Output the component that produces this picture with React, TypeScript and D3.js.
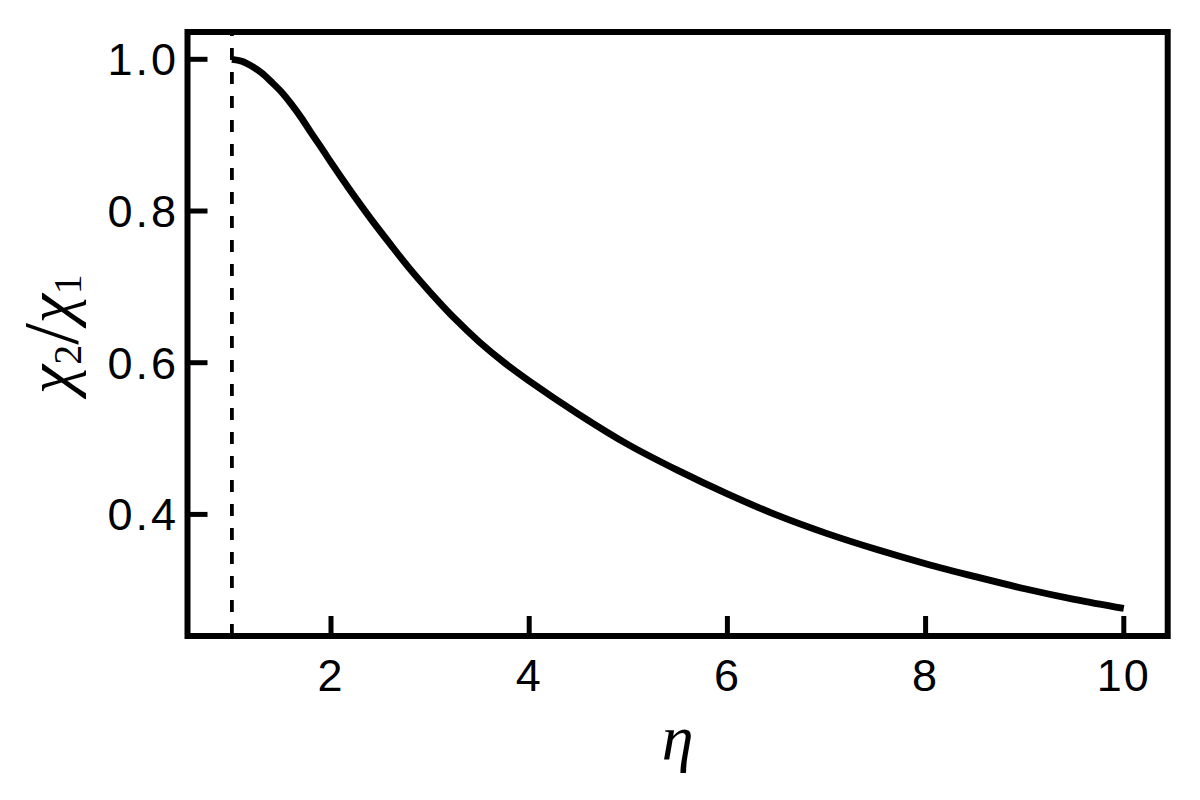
import * as d3 from "d3";

// η values and the ratio χ2/χ1
const etaValues = [
  1.0, 1.1, 1.2, 1.3, 1.4, 1.5, 1.6, 1.7, 1.8, 1.9, 2.0, 2.2, 2.4, 2.6, 2.8,
  3.0, 3.25, 3.5, 3.75, 4.0, 4.5, 5.0, 5.5, 6.0, 6.5, 7.0, 7.5, 8.0, 8.5, 9.0,
  9.5, 10.0,
];
const ratioValues = [
  1.0, 0.9975, 0.991, 0.982, 0.97, 0.957, 0.941, 0.923, 0.903, 0.884, 0.864,
  0.826, 0.79, 0.756, 0.723, 0.693, 0.658, 0.627, 0.6, 0.576, 0.532, 0.492,
  0.458, 0.427, 0.399, 0.375, 0.354, 0.335, 0.318, 0.302, 0.288, 0.276,
];
const xTicks = [2, 4, 6, 8, 10];
const yTicks = [0.4, 0.6, 0.8, 1.0];
const thresholdEta = 1;

const W = 1200;
const H = 800;
const frame = { left: 187.5, right: 1167.7, top: 32, bottom: 636 };

export default function App() {
  const x = d3.scaleLinear().domain([0.552, 10.443]).range([frame.left, frame.right]);
  const y = d3.scaleLinear().domain([0.2397, 1.036]).range([frame.bottom, frame.top]);

  const points = etaValues.map((e, i) => [e, ratioValues[i]] as [number, number]);
  const line = d3
    .line<[number, number]>()
    .x((d) => x(d[0]))
    .y((d) => y(d[1]))
    .curve(d3.curveCatmullRom.alpha(0.5));

  const tickFont = "'Liberation Sans', Arial, Helvetica, sans-serif";
  const mathFont = "'Liberation Serif', 'DejaVu Serif', serif";
  const tickLen = 20;

  return (
    <svg
      width={W}
      height={H}
      style={{ position: "absolute", left: 0, top: 0, background: "#fff" }}
    >
      {/* threshold line, drawn upward so the dash phase starts at the axis */}
      <line
        x1={x(thresholdEta)}
        x2={x(thresholdEta)}
        y1={frame.bottom}
        y2={frame.top}
        stroke="#000"
        strokeWidth={3.8}
        strokeDasharray="12 12"
      />

      <path d={line(points) ?? ""} fill="none" stroke="#000" strokeWidth={6.8} />

      {/* ticks */}
      {xTicks.map((t) => (
        <g key={`x${t}`}>
          <line
            x1={x(t)}
            x2={x(t)}
            y1={frame.bottom}
            y2={frame.bottom - tickLen}
            stroke="#000"
            strokeWidth={5}
          />
          <text
            x={x(t)}
            y={691}
            textAnchor="middle"
            fontFamily={tickFont}
            fontSize={45}
            letterSpacing={2}
            fill="#000"
          >
            {t}
          </text>
        </g>
      ))}
      {yTicks.map((t) => (
        <g key={`y${t}`}>
          <line
            x1={frame.left}
            x2={frame.left + tickLen}
            y1={y(t)}
            y2={y(t)}
            stroke="#000"
            strokeWidth={5}
          />
          <text
            x={179}
            y={y(t) + 16}
            textAnchor="end"
            fontFamily={tickFont}
            fontSize={45}
            letterSpacing={3}
            fill="#000"
          >
            {d3.format(".1f")(t)}
          </text>
        </g>
      ))}

      {/* frame */}
      <rect
        x={frame.left}
        y={frame.top}
        width={frame.right - frame.left}
        height={frame.bottom - frame.top}
        fill="none"
        stroke="#000"
        strokeWidth={6}
      />

      {/* axis labels */}
      <text
        x={(frame.left + frame.right) / 2}
        y={759}
        textAnchor="middle"
        fontFamily={mathFont}
        fontStyle="italic"
        fontSize={64}
        fill="#000"
      >
        η
      </text>
      <text
        transform={`translate(72,${(frame.top + frame.bottom) / 2}) rotate(-90)`}
        textAnchor="middle"
        fontFamily={mathFont}
        fontSize={66}
        fill="#000"
      >
        <tspan fontStyle="italic">χ</tspan>
        <tspan fontSize={40} dy={9}>2</tspan>
        <tspan fontSize={78} dy={-4}>/</tspan>
        <tspan fontStyle="italic" dy={-5}>χ</tspan>
        <tspan fontSize={40} dy={9}>1</tspan>
      </text>
    </svg>
  );
}
